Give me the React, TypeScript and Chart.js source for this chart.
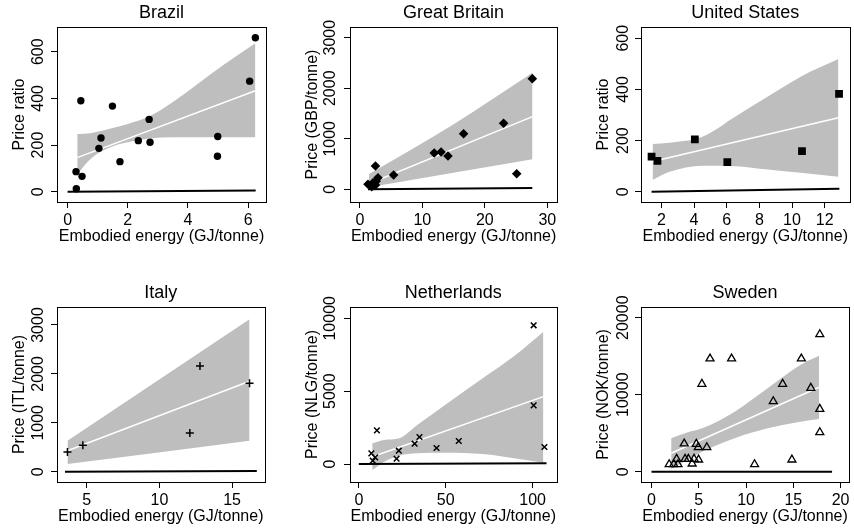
import React, { useEffect, useRef } from 'react';
import { Chart, registerables } from 'chart.js';
Chart.register(...registerables);

const FONT = '"Liberation Sans", Arial, Helvetica, sans-serif';
Chart.defaults.color = '#000';
Chart.defaults.font.family = FONT;

const xLabel = 'Embodied energy (GJ/tonne)';

// ---------- Brazil ----------
const brazilX = [6.24, 6.05, 0.44, 1.49, 2.71, 1.11, 2.35, 2.74, 1.04, 4.99, 4.98, 1.74, 0.28, 0.48, 0.29];
const brazilY = [660, 474, 390, 367, 310, 230, 219, 212, 186, 237, 152, 129, 86, 66, 13];
const brazilBandX = [0.32, 0.8, 1.4, 2.0, 2.7, 3.5, 4.3, 5.2, 6.24];
const brazilBandUpper = [247, 252, 270, 290, 322, 385, 460, 545, 636];
const brazilBandLower = [76, 145, 190, 212, 228, 234, 234, 233, 233];
const brazilFitX = [0.32, 6.24];
const brazilFitY = [146, 433];
const brazilEnergyX = [0, 6.25];
const brazilEnergyY = [0, 5];
const brazilXTicks = [0, 2, 4, 6];
const brazilYTicks = [0, 200, 400, 600];

// ---------- Great Britain ----------
const gbX = [27.6, 23.0, 16.6, 11.9, 13.0, 14.1, 25.1, 5.4, 2.5, 2.9, 1.3, 1.9, 2.1, 2.5, 2.6];
const gbY = [2190, 1307, 1101, 719, 739, 659, 309, 283, 461, 230, 99, 51, 131, 85, 160];
const gbBandX = [1.47, 14.5, 27.63];
const gbBandUpper = [303, 1250, 2308];
const gbBandLower = [40, 317, 594];
const gbFitX = [1.47, 27.63];
const gbFitY = [110, 1438];
const gbEnergyX = [1.3, 27.6];
const gbEnergyY = [0, 25];
const gbXTicks = [0, 10, 20, 30];
const gbYTicks = [0, 1000, 2000, 3000];

// ---------- United States ----------
const usX = [1.4, 1.76, 4.05, 6.04, 10.61, 12.88];
const usY = [137, 121, 205, 116, 159, 383];
const usBandX = [1.46, 2.5, 4.51, 6.52, 8.52, 10.53, 12.84];
const usBandUpper = [187, 192, 215, 293, 372, 450, 519];
const usBandLower = [46, 78, 102, 100, 87, 74, 59];
const usFitX = [1.46, 12.84];
const usFitY = [118, 289];
const usEnergyX = [1.4, 12.9];
const usEnergyY = [0, 12];
const usXTicks = [2, 4, 6, 8, 10, 12];
const usYTicks = [0, 200, 400, 600];

// ---------- Italy ----------
const itX = [3.67, 4.73, 12.09, 12.79, 16.2];
const itY = [403, 540, 791, 2161, 1807];
const itBandX = [3.67, 16.2];
const itBandUpper = [634, 3116];
const itBandLower = [157, 634];
const itFitX = [3.67, 16.2];
const itFitY = [429, 1848];
const itEnergyX = [3.5, 16.7];
const itEnergyY = [0, 15];
const itXTicks = [5, 10, 15];
const itYTicks = [0, 1000, 2000, 3000];

// ---------- Netherlands ----------
const nlX = [100.6, 100.6, 106.8, 57.5, 44.7, 34.9, 32.1, 23.0, 21.7, 10.4, 7.2, 9.4, 8.0];
const nlY = [9519, 4027, 1167, 1578, 1098, 1853, 1395, 915, 366, 2311, 732, 458, 228];
const nlBandX = [7.7, 14.7, 23.2, 33.6, 49.6, 71.3, 90.2, 106.2];
const nlBandUpper = [1419, 1647, 1762, 2677, 4049, 5882, 7481, 9080];
const nlBandLower = [-412, 158, 570, 730, 776, 684, 386, 92];
const nlFitX = [7.7, 106.2];
const nlFitY = [503, 4622];
const nlEnergyX = [0, 108];
const nlEnergyY = [0, 60];
const nlXTicks = [0, 50, 100];
const nlYTicks = [0, 5000, 10000];

// ---------- Sweden ----------
const swX = [17.8, 15.85, 6.19, 8.47, 5.33, 13.87, 16.85, 12.88, 17.8, 17.8, 3.46, 4.74, 4.95, 5.85, 2.66, 3.55, 3.9, 4.5, 4.98, 1.87, 2.35, 2.8, 4.3, 10.9, 14.85];
const swY = [17840, 14680, 14680, 14680, 11390, 11390, 10870, 9140, 8140, 5110, 3640, 3600, 3160, 3160, 1650, 1650, 1650, 1650, 1560, 960, 960, 960, 1040, 960, 1560];
const swBandX = [2.08, 3.77, 5.36, 8.8, 12.28, 15.74, 17.72];
const swBandUpper = [4340, 5100, 5630, 7790, 10830, 13860, 15060];
const swBandLower = [350, 1520, 2600, 4340, 5630, 6490, 6840];
const swFitX = [2.08, 17.72];
const swFitY = [2390, 10960];
const swEnergyX = [0, 19.1];
const swEnergyY = [0, 0];
const swXTicks = [0, 5, 10, 15, 20];
const swYTicks = [0, 10000, 20000];

const zip = (xs: number[], ys: number[]) => xs.map((x, i) => ({ x, y: ys[i] }));

type PanelDef = {
  title: string; yTitle: string;
  boxL: number; boxR: number; top: number; yLabOff: number;
  xMin: number; xMax: number; yMin: number; yMax: number;
  xTicks: number[]; yTicks: number[];
  px: number[]; py: number[];
  marker: any;
  bandX: number[]; bandU: number[]; bandL: number[];
  fitX: number[]; fitY: number[];
  enX: number[]; enY: number[];
};

const filled = (style: string, r: number) => ({ pointStyle: style, pointRadius: r, pointBackgroundColor: '#000', pointBorderColor: '#000', pointBorderWidth: 0 });
const stroked = (style: string, r: number, w: number) => ({ pointStyle: style, pointRadius: r, pointBackgroundColor: 'rgba(0,0,0,0)', pointBorderColor: '#000', pointBorderWidth: w });

const panels: PanelDef[] = [
  { title: 'Brazil', yTitle: 'Price ratio', boxL: 57, boxR: 268, top: 0, yLabOff: 14,
    xMin: -0.352, xMax: 6.593, yMin: -44, yMax: 706, xTicks: brazilXTicks, yTicks: brazilYTicks,
    px: brazilX, py: brazilY, marker: filled('circle', 3.7),
    bandX: brazilBandX, bandU: brazilBandUpper, bandL: brazilBandLower, fitX: brazilFitX, fitY: brazilFitY, enX: brazilEnergyX, enY: brazilEnergyY },
  { title: 'Great Britain', yTitle: 'Price (GBP/tonne)', boxL: 350, boxR: 560, top: 0, yLabOff: 15,
    xMin: -1.579, xMax: 31.58, yMin: -251, yMax: 3212, xTicks: gbXTicks, yTicks: gbYTicks,
    px: gbX, py: gbY, marker: filled('rectRot', 4.8),
    bandX: gbBandX, bandU: gbBandUpper, bandL: gbBandLower, fitX: gbFitX, fitY: gbFitY, enX: gbEnergyX, enY: gbEnergyY },
  { title: 'United States', yTitle: 'Price ratio', boxL: 641, boxR: 853, top: 0, yLabOff: 13,
    xMin: 0.753, xMax: 13.52, yMin: -40, yMax: 644, xTicks: usXTicks, yTicks: usYTicks,
    px: usX, py: usY, marker: filled('rect', 5.5),
    bandX: usBandX, bandU: usBandUpper, bandL: usBandLower, fitX: usFitX, fitY: usFitY, enX: usEnergyX, enY: usEnergyY },
  { title: 'Italy', yTitle: 'Price (ITL/tonne)', boxL: 57, boxR: 268, top: 280, yLabOff: 14,
    xMin: 2.95, xMax: 17.23, yMin: -211, yMax: 3368, xTicks: itXTicks, yTicks: itYTicks,
    px: itX, py: itY, marker: stroked('cross', 4, 1.5),
    bandX: itBandX, bandU: itBandUpper, bandL: itBandLower, fitX: itFitX, fitY: itFitY, enX: itEnergyX, enY: itEnergyY },
  { title: 'Netherlands', yTitle: 'Price (NLG/tonne)', boxL: 350, boxR: 560, top: 280, yLabOff: 15,
    xMin: -5.09, xMax: 113.75, yMin: -1235, yMax: 10776, xTicks: nlXTicks, yTicks: nlYTicks,
    px: nlX, py: nlY, marker: stroked('crossRot', 4, 1.5),
    bandX: nlBandX, bandU: nlBandUpper, bandL: nlBandLower, fitX: nlFitX, fitY: nlFitY, enX: nlEnergyX, enY: nlEnergyY },
  { title: 'Sweden', yTitle: 'Price (NOK/tonne)', boxL: 641, boxR: 853, top: 280, yLabOff: 13,
    xMin: -1.11, xMax: 20.9, yMin: -1338, yMax: 21390, xTicks: swXTicks, yTicks: swYTicks,
    px: swX, py: swY, marker: stroked('triangle', 4.6, 1.3),
    bandX: swBandX, bandU: swBandUpper, bandL: swBandLower, fitX: swFitX, fitY: swFitY, enX: swEnergyX, enY: swEnergyY },
];

const Y_AXIS_W = 47;
const X_AXIS_H = 44;
const CANVAS_H = 246;

function makeConfig(p: PanelDef): any {
  const yTickLabels = {
    id: 'rTickLabelsAndBox',
    afterDraw(chart: any) {
      const ctx = chart.ctx;
      const ys = chart.scales.y;
      const { left, top, right, bottom } = chart.chartArea;
      ctx.save();
      ctx.font = `16px ${FONT}`;
      ctx.fillStyle = '#000';
      ctx.textAlign = 'center';
      ctx.textBaseline = 'alphabetic';
      for (const v of p.yTicks) {
        const y = ys.getPixelForValue(v);
        ctx.save();
        ctx.translate(left - p.yLabOff, y);
        ctx.rotate(-Math.PI / 2);
        ctx.fillText(String(v), 0, 0);
        ctx.restore();
      }
      ctx.strokeStyle = '#000';
      ctx.lineWidth = 1;
      ctx.strokeRect(Math.round(left) + 0.5, Math.round(top) + 0.5, Math.round(right - left), Math.round(bottom - top));
      ctx.restore();
    },
  };
  const gridOpts = { display: true, drawOnChartArea: false, drawTicks: true, tickLength: 6, color: '#000', lineWidth: 1 };
  return {
    type: 'scatter',
    data: {
      datasets: [
        { type: 'scatter', data: zip(p.px, p.py), ...p.marker, order: 0 },
        { type: 'line', data: zip(p.enX, p.enY), borderColor: '#000', borderWidth: 2, pointRadius: 0, fill: false, order: 1 },
        { type: 'line', data: zip(p.fitX, p.fitY), borderColor: '#fff', borderWidth: 1.5, pointRadius: 0, fill: false, order: 2 },
        { type: 'line', data: zip(p.bandX, p.bandU), borderColor: 'rgba(0,0,0,0)', borderWidth: 0, pointRadius: 0, fill: '+1', backgroundColor: '#bebebe', cubicInterpolationMode: 'monotone', order: 3 },
        { type: 'line', data: zip(p.bandX, p.bandL), borderColor: 'rgba(0,0,0,0)', borderWidth: 0, pointRadius: 0, fill: false, cubicInterpolationMode: 'monotone', order: 4 },
      ],
    },
    options: {
      animation: false,
      responsive: false,
      devicePixelRatio: 1,
      layout: { padding: { left: 0, right: 2, top: 0, bottom: 0 } },
      plugins: {
        legend: { display: false },
        tooltip: { enabled: false },
        title: {
          display: true, text: p.title, fullSize: false, color: '#000',
          font: { size: 18, family: FONT, weight: 'normal', lineHeight: 1.2 },
          padding: { top: 2, bottom: 3.4 },
        },
      },
      scales: {
        x: {
          type: 'linear', min: p.xMin, max: p.xMax,
          afterBuildTicks: (s: any) => { s.ticks = p.xTicks.map((v) => ({ value: v })); },
          afterFit: (s: any) => { s.height = X_AXIS_H; },
          grid: gridOpts,
          border: { display: false },
          ticks: { autoSkip: false, maxRotation: 0, minRotation: 0, padding: 3, color: '#000', font: { size: 16, family: FONT }, callback: (v: any) => String(v) },
          title: { display: true, text: xLabel, color: '#000', font: { size: 16, family: FONT }, padding: { top: 0, bottom: 0 } },
        },
        y: {
          type: 'linear', min: p.yMin, max: p.yMax,
          afterBuildTicks: (s: any) => { s.ticks = p.yTicks.map((v) => ({ value: v })); },
          afterFit: (s: any) => { s.width = Y_AXIS_W; },
          grid: gridOpts,
          border: { display: false },
          ticks: { display: false },
          title: { display: true, text: p.yTitle, color: '#000', font: { size: 16, family: FONT }, padding: { top: 0, bottom: 0 } },
        },
      },
    },
    plugins: [yTickLabels],
  };
}

function Panel({ p }: { p: PanelDef }) {
  const ref = useRef<HTMLCanvasElement | null>(null);
  const left = p.boxL - Y_AXIS_W;
  const width = Y_AXIS_W + (p.boxR - p.boxL) + 2;
  useEffect(() => {
    if (!ref.current) return;
    const chart = new Chart(ref.current, makeConfig(p));
    return () => chart.destroy();
  }, [p]);
  return (
    <canvas
      ref={ref}
      width={width}
      height={CANVAS_H}
      style={{ position: 'absolute', left, top: p.top, width, height: CANVAS_H }}
    />
  );
}

export default function App() {
  return (
    <div style={{ position: 'absolute', left: 0, top: 0, width: 854, height: 531, overflow: 'hidden', background: '#fff' }}>
      {panels.map((p) => (
        <Panel key={p.title} p={p} />
      ))}
    </div>
  );
}
